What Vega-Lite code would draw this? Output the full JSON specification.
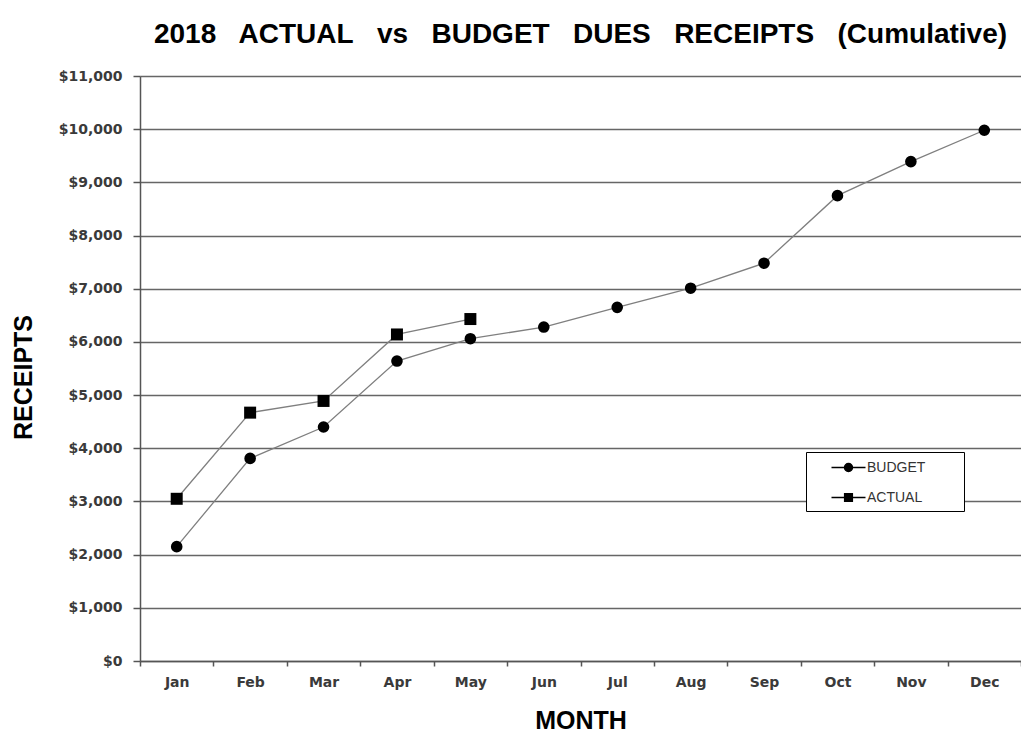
{
  "$schema": "https://vega.github.io/schema/vega-lite/v6.json",
  "width": 881,
  "height": 585,
  "autosize": {"type": "none"},
  "padding": {"left": 140, "top": 76, "right": 0, "bottom": 74},
  "background": "white",
  "title": {
    "text": "2018\u00a0\u00a0 ACTUAL\u00a0\u00a0 vs\u00a0\u00a0 BUDGET\u00a0\u00a0 DUES\u00a0\u00a0 RECEIPTS\u00a0\u00a0 (Cumulative)",
    "font": "Liberation Sans",
    "fontSize": 28,
    "fontWeight": "bold",
    "color": "black",
    "anchor": "middle",
    "offset": 20
  },
  "config": {
    "view": {"stroke": null},
    "axis": {
      "labelFont": "DejaVu Sans",
      "labelFontSize": 14,
      "labelFontWeight": "bold",
      "labelColor": "#3a3a3a",
      "titleFont": "Liberation Sans",
      "titleFontSize": 25,
      "titleFontWeight": "bold",
      "titleColor": "black",
      "domainColor": "#555555",
      "domainWidth": 1.5,
      "tickColor": "#555555",
      "tickWidth": 1.5
    }
  },
  "data": {
    "values": [
      {"month": "Jan", "series": "BUDGET", "value": 2150},
      {"month": "Feb", "series": "BUDGET", "value": 3810},
      {"month": "Mar", "series": "BUDGET", "value": 4400},
      {"month": "Apr", "series": "BUDGET", "value": 5640},
      {"month": "May", "series": "BUDGET", "value": 6060},
      {"month": "Jun", "series": "BUDGET", "value": 6280},
      {"month": "Jul", "series": "BUDGET", "value": 6650},
      {"month": "Aug", "series": "BUDGET", "value": 7010},
      {"month": "Sep", "series": "BUDGET", "value": 7480},
      {"month": "Oct", "series": "BUDGET", "value": 8750},
      {"month": "Nov", "series": "BUDGET", "value": 9390},
      {"month": "Dec", "series": "BUDGET", "value": 9980},
      {"month": "Jan", "series": "ACTUAL", "value": 3050},
      {"month": "Feb", "series": "ACTUAL", "value": 4670},
      {"month": "Mar", "series": "ACTUAL", "value": 4890},
      {"month": "Apr", "series": "ACTUAL", "value": 6140},
      {"month": "May", "series": "ACTUAL", "value": 6430}
    ]
  },
  "encoding": {
    "x": {
      "field": "month",
      "type": "ordinal",
      "sort": ["Jan", "Feb", "Mar", "Apr", "May", "Jun", "Jul", "Aug", "Sep", "Oct", "Nov", "Dec"],
      "scale": {"type": "band", "paddingInner": 0, "paddingOuter": 0},
      "axis": {
        "title": "MONTH",
        "labelAngle": 0,
        "tickBand": "extent",
        "tickSize": 5,
        "labelPadding": 9,
        "grid": false,
        "titleY": 59,
        "titleBaseline": "middle"
      }
    },
    "y": {
      "field": "value",
      "type": "quantitative",
      "scale": {"domain": [0, 11000], "nice": false, "zero": true},
      "axis": {
        "title": "RECEIPTS",
        "values": [0, 1000, 2000, 3000, 4000, 5000, 6000, 7000, 8000, 9000, 10000, 11000],
        "format": "$,.0f",
        "grid": true,
        "gridColor": "#666666",
        "gridWidth": 1.5,
        "tickSize": 7,
        "labelPadding": 11,
        "titleX": -117,
        "titleY": 301,
        "titleAlign": "center",
        "titleBaseline": "middle",
        "titleAngle": 270
      }
    }
  },
  "layer": [
    {
      "mark": {"type": "line", "color": "#7f7f7f", "strokeWidth": 1.3},
      "encoding": {"detail": {"field": "series", "type": "nominal"}}
    },
    {
      "transform": [{"filter": "datum.series === 'BUDGET'"}],
      "mark": {"type": "point", "shape": "circle", "filled": true, "color": "black", "opacity": 1, "size": 135}
    },
    {
      "transform": [{"filter": "datum.series === 'ACTUAL'"}],
      "mark": {"type": "point", "shape": "square", "filled": true, "color": "black", "opacity": 1, "size": 144}
    },
    {
      "transform": [{"filter": "datum.value < 0"}],
      "mark": {"type": "point", "filled": true, "color": "black", "stroke": "black", "strokeWidth": 1, "opacity": 1, "size": 289},
      "encoding": {
        "shape": {
          "field": "series",
          "type": "nominal",
          "scale": {
            "domain": ["BUDGET", "ACTUAL"],
            "range": [
              "M-2,0H2M-0.47,0A0.47,0.47 0 1,1 0.47,0A0.47,0.47 0 1,1 -0.47,0Z",
              "M-2,0H2M-0.45,-0.45H0.45V0.45H-0.45Z"
            ]
          },
          "legend": {
            "title": "\u00a0",
            "titleOrient": "right",
            "titlePadding": 33,
            "titleFontSize": 4,
            "orient": "none",
            "legendX": 666,
            "legendY": 376,
            "strokeColor": "black",
            "fillColor": "white",
            "padding": 6,
            "symbolOffset": 27,
            "labelOffset": 9,
            "rowPadding": 13,
            "labelFont": "Liberation Sans",
            "labelFontSize": 14,
            "labelColor": "#333333",
            "symbolSize": 289
          }
        }
      }
    }
  ]
}
